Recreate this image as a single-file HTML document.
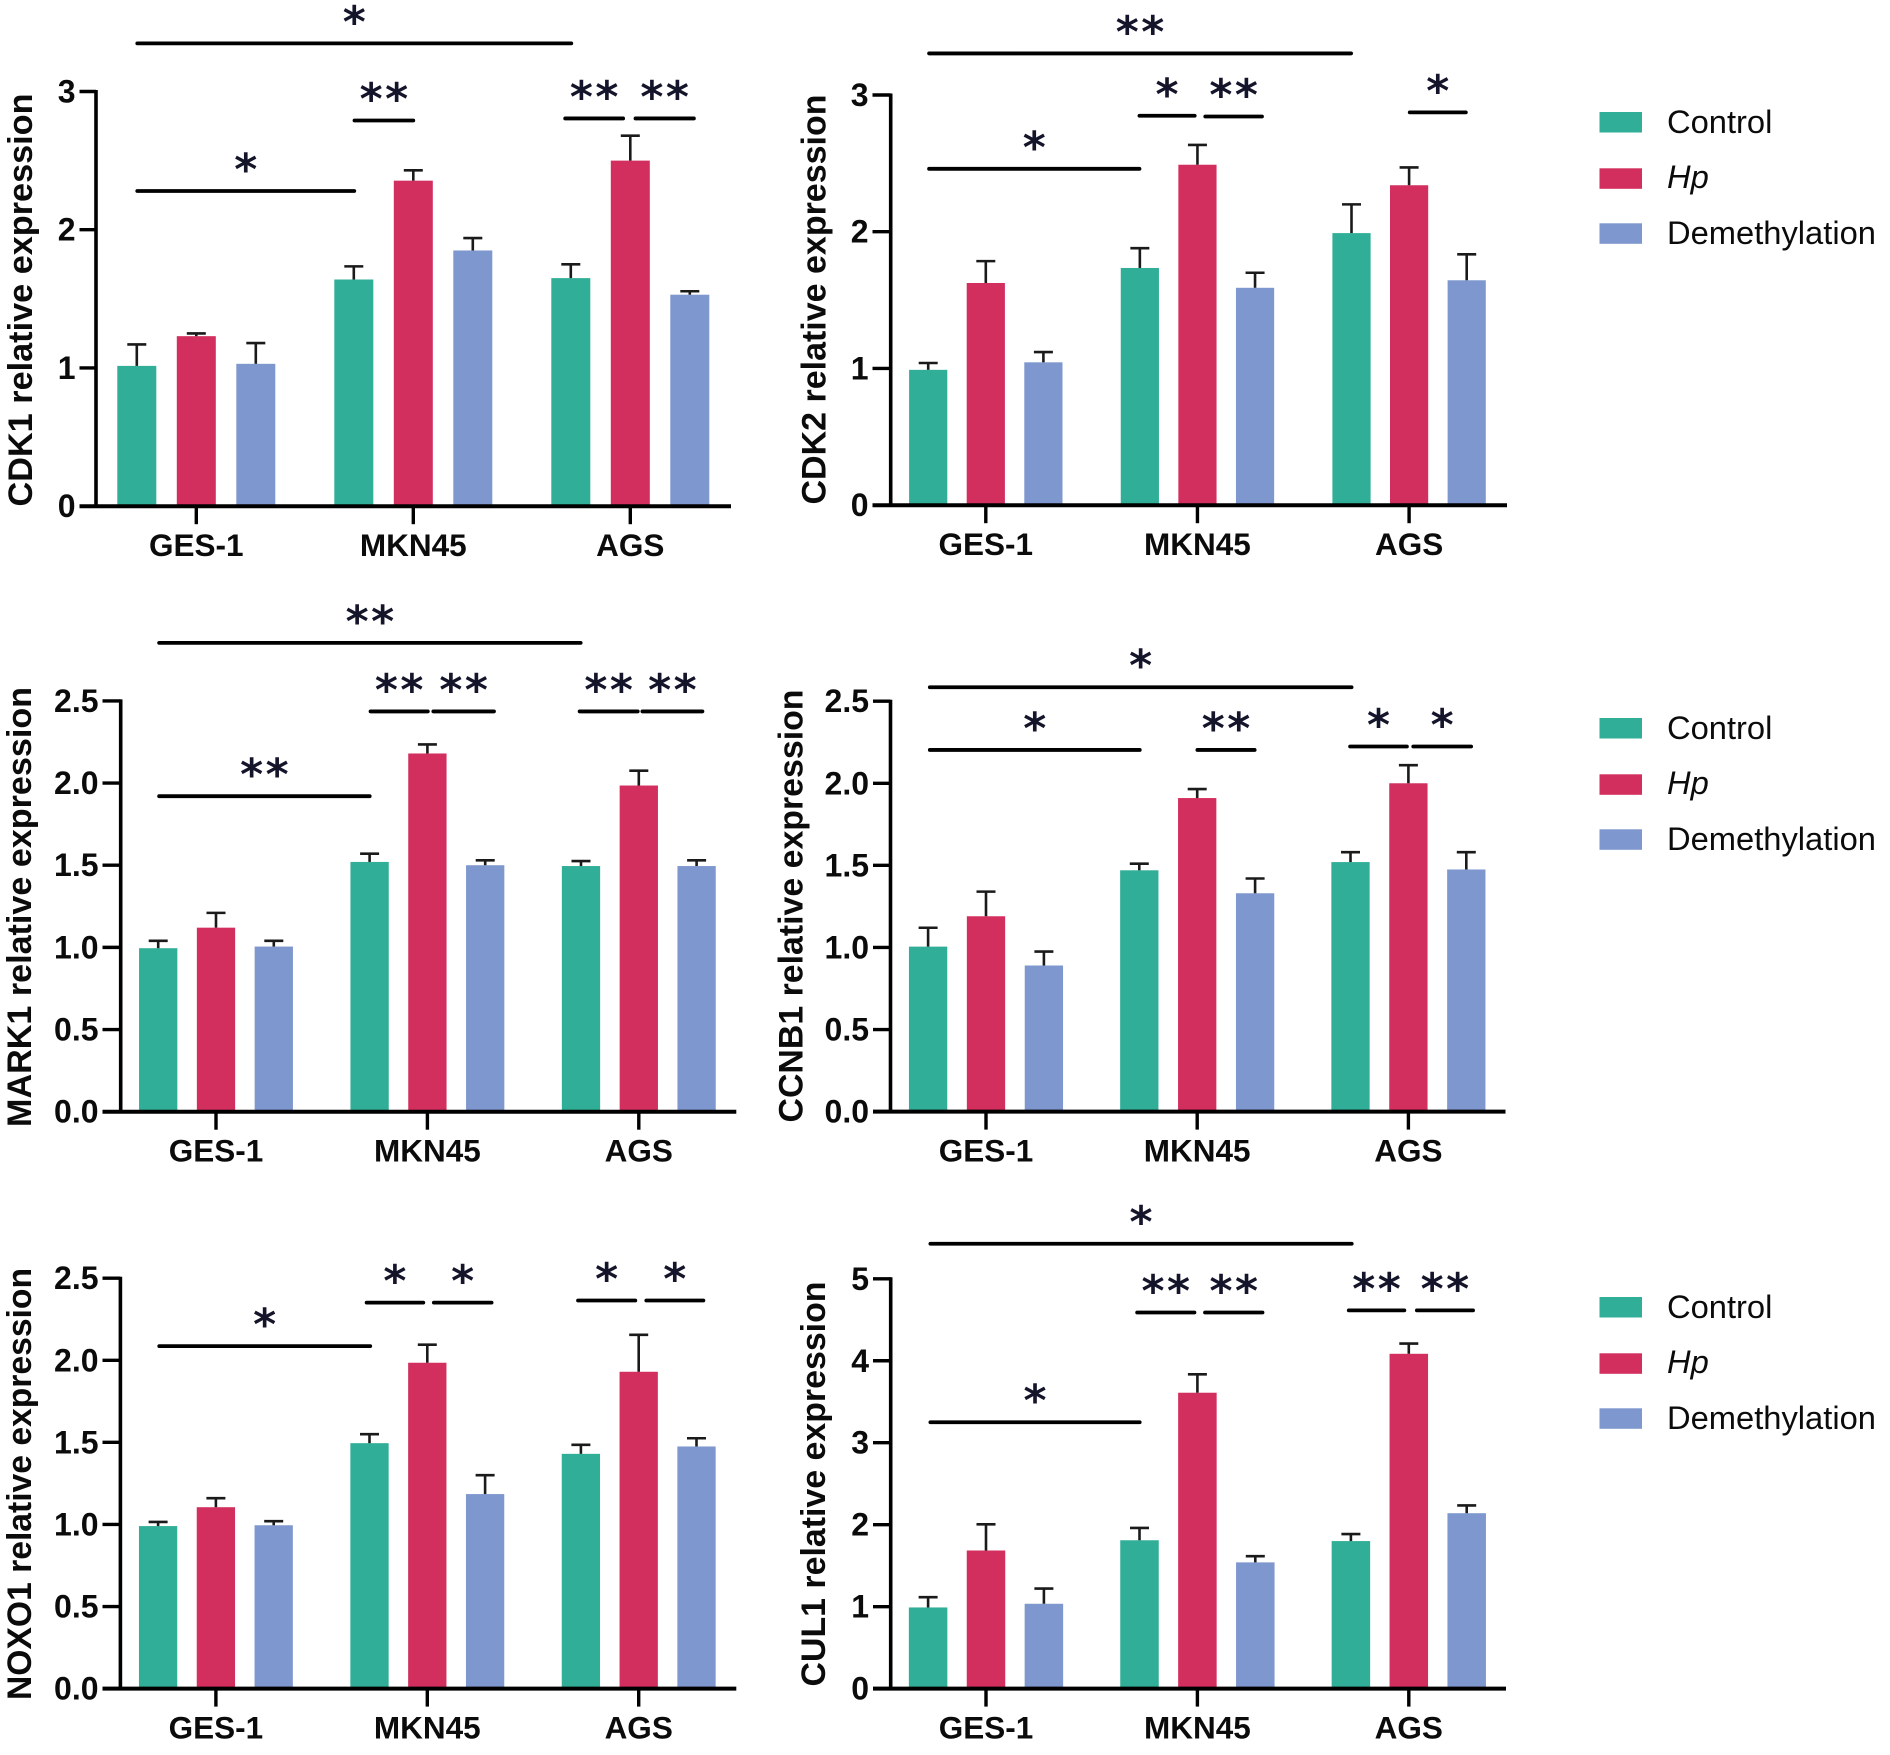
<!DOCTYPE html>
<html lang="en">
<head>
<meta charset="utf-8">
<title>Relative expression of CDK1, CDK2, MARK1, CCNB1, NOXO1 and CUL1</title>
<style>
html,body{margin:0;padding:0;background:#fff;}
svg{display:block;}
text{font-family:"Liberation Sans",Arial,sans-serif;fill:#0b0b0b;}
.ytitle{font-weight:bold;font-size:34px;text-anchor:middle;}
.tick{font-weight:bold;font-size:32px;text-anchor:end;}
.cat{font-weight:bold;font-size:31.5px;text-anchor:middle;}
.star{font-family:"DejaVu Sans",sans-serif;font-weight:bold;font-size:44px;text-anchor:middle;letter-spacing:2.5px;fill:#14142a;}
.leg{font-size:32.7px;}
</style>
</head>
<body>
<svg id="figure" xmlns="http://www.w3.org/2000/svg" width="1890" height="1755" viewBox="0 0 1890 1755">
  <rect x="0" y="0" width="1890" height="1755" fill="#ffffff"/>

  <g id="panel-cdk1">
    <text class="ytitle" transform="translate(32,300) rotate(-90)" textLength="413" lengthAdjust="spacingAndGlyphs">CDK1 relative expression</text>
  </g>
  <g id="panel-cdk2">
    <text class="ytitle" transform="translate(825.5,299.5) rotate(-90)" textLength="410" lengthAdjust="spacingAndGlyphs">CDK2 relative expression</text>
  </g>
  <g id="panel-mark1">
    <text class="ytitle" transform="translate(31,907) rotate(-90)" textLength="440" lengthAdjust="spacingAndGlyphs">MARK1 relative expression</text>
  </g>
  <g id="panel-ccnb1">
    <text class="ytitle" transform="translate(802.4,906) rotate(-90)" textLength="433" lengthAdjust="spacingAndGlyphs">CCNB1 relative expression</text>
  </g>
  <g id="panel-noxo1">
    <text class="ytitle" transform="translate(31,1484) rotate(-90)" textLength="432" lengthAdjust="spacingAndGlyphs">NOXO1 relative expression</text>
  </g>
  <g id="panel-cul1">
    <text class="ytitle" transform="translate(824.8,1484) rotate(-90)" textLength="405" lengthAdjust="spacingAndGlyphs">CUL1 relative expression</text>
  </g>

  <g transform="translate(0,0)">
    <rect x="1599.5" y="112" width="42.5" height="20.5" fill="#30ae97"/>
    <text class="leg" x="1667" y="133">Control</text>
    <rect x="1599.5" y="168.3" width="42.5" height="20.5" fill="#d22e5e"/>
    <text class="leg" x="1667" y="188" font-style="italic">Hp</text>
    <rect x="1599.5" y="223.3" width="42.5" height="20.5" fill="#7e97ce"/>
    <text class="leg" x="1667" y="244">Demethylation</text>
  </g>
  <g transform="translate(0,606)">
    <rect x="1599.5" y="112" width="42.5" height="20.5" fill="#30ae97"/>
    <text class="leg" x="1667" y="133">Control</text>
    <rect x="1599.5" y="168.3" width="42.5" height="20.5" fill="#d22e5e"/>
    <text class="leg" x="1667" y="188" font-style="italic">Hp</text>
    <rect x="1599.5" y="223.3" width="42.5" height="20.5" fill="#7e97ce"/>
    <text class="leg" x="1667" y="244">Demethylation</text>
  </g>
  <g transform="translate(0,1185)">
    <rect x="1599.5" y="112" width="42.5" height="20.5" fill="#30ae97"/>
    <text class="leg" x="1667" y="133">Control</text>
    <rect x="1599.5" y="168.3" width="42.5" height="20.5" fill="#d22e5e"/>
    <text class="leg" x="1667" y="188" font-style="italic">Hp</text>
    <rect x="1599.5" y="223.3" width="42.5" height="20.5" fill="#7e97ce"/>
    <text class="leg" x="1667" y="244">Demethylation</text>
  </g>
</svg>

<script>
// Shared categories and series
const categories = ["GES-1", "MKN45", "AGS"];
const seriesNames = ["control", "hp", "demethylation"];
const seriesColors = ["#30ae97", "#d22e5e", "#7e97ce"];

// Tick labels
const ticksThree = ["0", "1", "2", "3"];
const ticksHalf = ["0.0", "0.5", "1.0", "1.5", "2.0", "2.5"];
const ticksFive = ["0", "1", "2", "3", "4", "5"];

// CDK1 means and upper error values
const cdk1Control = [1.015, 1.64, 1.65];
const cdk1Hp = [1.23, 2.355, 2.50];
const cdk1Demeth = [1.03, 1.85, 1.53];
const cdk1ControlErr = [1.17, 1.735, 1.75];
const cdk1HpErr = [1.25, 2.43, 2.68];
const cdk1DemethErr = [1.18, 1.94, 1.555];

// CDK2
const cdk2Control = [0.99, 1.735, 1.99];
const cdk2Hp = [1.625, 2.49, 2.34];
const cdk2Demeth = [1.045, 1.59, 1.645];
const cdk2ControlErr = [1.04, 1.88, 2.20];
const cdk2HpErr = [1.785, 2.635, 2.47];
const cdk2DemethErr = [1.12, 1.70, 1.835];

// MARK1
const mark1Control = [0.995, 1.52, 1.495];
const mark1Hp = [1.12, 2.18, 1.985];
const mark1Demeth = [1.005, 1.50, 1.495];
const mark1ControlErr = [1.04, 1.57, 1.525];
const mark1HpErr = [1.21, 2.235, 2.075];
const mark1DemethErr = [1.04, 1.53, 1.53];

// CCNB1
const ccnb1Control = [1.005, 1.47, 1.52];
const ccnb1Hp = [1.19, 1.91, 2.00];
const ccnb1Demeth = [0.89, 1.33, 1.475];
const ccnb1ControlErr = [1.12, 1.51, 1.58];
const ccnb1HpErr = [1.34, 1.965, 2.11];
const ccnb1DemethErr = [0.975, 1.42, 1.58];

// NOXO1
const noxo1Control = [0.99, 1.495, 1.43];
const noxo1Hp = [1.105, 1.985, 1.93];
const noxo1Demeth = [0.995, 1.185, 1.475];
const noxo1ControlErr = [1.015, 1.55, 1.485];
const noxo1HpErr = [1.16, 2.095, 2.155];
const noxo1DemethErr = [1.02, 1.30, 1.525];

// CUL1
const cul1Control = [0.99, 1.81, 1.80];
const cul1Hp = [1.685, 3.61, 4.085];
const cul1Demeth = [1.035, 1.54, 2.14];
const cul1ControlErr = [1.115, 1.96, 1.885];
const cul1HpErr = [2.005, 3.835, 4.21];
const cul1DemethErr = [1.22, 1.615, 2.235];

// Significance brackets: start category, end category, axis value, label
const cdk1Sig = [[-0.272, 1.728, 3.348, "*"], [-0.272, 0.728, 2.28, "*"], [0.729, 1.0, 2.79, "**"], [1.70, 1.967, 2.805, "**"], [2.024, 2.293, 2.805, "**"]];
const cdk2Sig = [[-0.268, 1.726, 3.304, "**"], [-0.268, 0.726, 2.46, "*"], [0.726, 0.987, 2.848, "*"], [1.037, 1.305, 2.843, "**"], [2.003, 2.268, 2.873, "*"]];
const mark1Sig = [[-0.269, 1.725, 2.853, "**"], [-0.269, 0.727, 1.92, "**"], [0.731, 1.002, 2.436, "**"], [1.028, 1.315, 2.436, "**"], [1.72, 1.995, 2.436, "**"], [2.017, 2.301, 2.436, "**"]];
const ccnb1Sig = [[-0.266, 1.731, 2.585, "*"], [-0.266, 0.728, 2.203, "*"], [1.001, 1.272, 2.203, "**"], [1.724, 1.993, 2.224, "*"], [2.023, 2.297, 2.224, "*"]];
const noxo1Sig = [[-0.268, 0.73, 2.086, "*"], [0.713, 0.981, 2.351, "*"], [1.031, 1.304, 2.351, "*"], [1.713, 1.984, 2.364, "*"], [2.036, 2.306, 2.364, "*"]];
const cul1Sig = [[-0.263, 1.73, 5.428, "*"], [-0.263, 0.727, 3.25, "*"], [0.715, 0.986, 4.589, "**"], [1.036, 1.308, 4.589, "**"], [1.716, 1.979, 4.615, "**"], [2.038, 2.304, 4.615, "**"]];

const SVGNS = "http://www.w3.org/2000/svg";

function makeEl(tag, attrs, parent) {
  const el = document.createElementNS(SVGNS, tag);
  for (const k in attrs) el.setAttribute(k, attrs[k]);
  parent.appendChild(el);
  return el;
}

function drawPanel(p) {
  const root = document.getElementById(p.id);
  const yMax = parseFloat(p.ticks[p.ticks.length - 1]);
  const yScale = v => p.y0 - (v / yMax) * (p.y0 - p.yTop);
  const xScale = c => p.t0 + c * p.step;

  // bars and error bars
  p.values.forEach((vals, s) => {
    vals.forEach((v, c) => {
      const cx = xScale(c) + (s - 1) * p.barStep;
      const bar = makeEl("rect", {x: cx - p.barW / 2, y: yScale(v), width: p.barW, height: p.y0 - yScale(v), fill: seriesColors[s]}, root);
      
      
      const stem = makeEl("line", {x1: cx, x2: cx, y1: yScale(v), y2: yScale(p.errors[s][c]), stroke: "#1a1a1a", "stroke-width": 2.6}, root);
      
      
      const cap = makeEl("line", {x1: cx - 9.5, x2: cx + 9.5, y1: yScale(p.errors[s][c]), y2: yScale(p.errors[s][c]), stroke: "#1a1a1a", "stroke-width": 2.6}, root);
      
      
    });
  });

  // axes
  const yAxis = makeEl("line", {x1: p.axisX, x2: p.axisX, y1: p.yTop - 1.5, y2: p.y0, stroke: "#000", "stroke-width": 3.6}, root);
  
  
  const xAxis = makeEl("line", {x1: p.tickStart, x2: p.xEnd, y1: p.y0, y2: p.y0, stroke: "#000", "stroke-width": 4}, root);
  
  

  // y ticks
  p.ticks.forEach(label => {
    const y = yScale(parseFloat(label));
    const mark = makeEl("line", {x1: p.tickStart, x2: p.axisX, y1: y, y2: y, stroke: "#000", "stroke-width": 3.4}, root);
    
    
    const t = makeEl("text", {class: "tick", x: p.tickStart - 4, y: y + 11}, root);
    t.textContent = label;
    
    
  });

  // x ticks
  categories.forEach((label, c) => {
    const x = xScale(c);
    const mark = makeEl("line", {x1: x, x2: x, y1: p.y0, y2: p.y0 + 18, stroke: "#000", "stroke-width": 3.4}, root);
    
    
    const t = makeEl("text", {class: "cat", x: x, y: p.y0 + 50}, root);
    t.textContent = label;
    
    
  });

  // significance brackets
  p.sig.forEach(b => {
    const y = yScale(b[2]);
    const line = makeEl("line", {x1: xScale(b[0]), x2: xScale(b[1]), y1: y, y2: y, stroke: "#000", "stroke-width": 3.8, "stroke-linecap": "round"}, root);
    
    
    const t = makeEl("text", {class: "star", x: (xScale(b[0]) + xScale(b[1])) / 2 + 1.2, y: y - 6.5}, root);
    t.textContent = b[3];
    
    
  });
}

drawPanel({id: "panel-cdk1", ticks: ticksThree, axisX: 96, tickStart: 79.5, xEnd: 731, y0: 506.2, yTop: 91.5, t0: 196.3, step: 217, barStep: 59.5, barW: 39,
  values: [cdk1Control, cdk1Hp, cdk1Demeth], errors: [cdk1ControlErr, cdk1HpErr, cdk1DemethErr], sig: cdk1Sig});
drawPanel({id: "panel-cdk2", ticks: ticksThree, axisX: 890.7, tickStart: 872.5, xEnd: 1507, y0: 505.2, yTop: 95, t0: 985.8, step: 211.65, barStep: 57.6, barW: 38.2,
  values: [cdk2Control, cdk2Hp, cdk2Demeth], errors: [cdk2ControlErr, cdk2HpErr, cdk2DemethErr], sig: cdk2Sig});
drawPanel({id: "panel-mark1", ticks: ticksHalf, axisX: 120.7, tickStart: 102.5, xEnd: 736.3, y0: 1111.7, yTop: 700.9, t0: 216, step: 211.4, barStep: 57.8, barW: 38.3,
  values: [mark1Control, mark1Hp, mark1Demeth], errors: [mark1ControlErr, mark1HpErr, mark1DemethErr], sig: mark1Sig});
drawPanel({id: "panel-ccnb1", ticks: ticksHalf, axisX: 890.5, tickStart: 873, xEnd: 1505.5, y0: 1111.6, yTop: 701.2, t0: 986, step: 211.2, barStep: 57.9, barW: 38.3,
  values: [ccnb1Control, ccnb1Hp, ccnb1Demeth], errors: [ccnb1ControlErr, ccnb1HpErr, ccnb1DemethErr], sig: ccnb1Sig});
drawPanel({id: "panel-noxo1", ticks: ticksHalf, axisX: 120.4, tickStart: 102.5, xEnd: 736.3, y0: 1688.6, yTop: 1278.2, t0: 215.9, step: 211.4, barStep: 57.8, barW: 38.3,
  values: [noxo1Control, noxo1Hp, noxo1Demeth], errors: [noxo1ControlErr, noxo1HpErr, noxo1DemethErr], sig: noxo1Sig});
drawPanel({id: "panel-cul1", ticks: ticksFive, axisX: 890.7, tickStart: 873, xEnd: 1506, y0: 1688.6, yTop: 1278.8, t0: 986, step: 211.4, barStep: 57.9, barW: 38.5,
  values: [cul1Control, cul1Hp, cul1Demeth], errors: [cul1ControlErr, cul1HpErr, cul1DemethErr], sig: cul1Sig});
</script>
</body>
</html>
